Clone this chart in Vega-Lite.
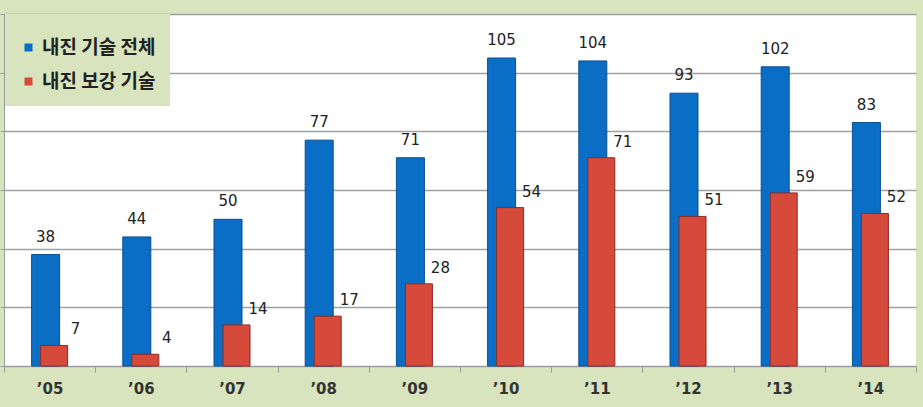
{
  "$schema": "https://vega.github.io/schema/vega-lite/v6.json",
  "width": 912,
  "height": 352,
  "autosize": {"type": "none"},
  "padding": {"left": 4, "top": 14, "right": 7, "bottom": 41},
  "background": "#d7e4bd",
  "view": {"fill": "white", "stroke": null},
  "data": {
    "values": [
      {"year": "’05", "series": "내진 기술 전체", "count": 38},
      {"year": "’06", "series": "내진 기술 전체", "count": 44},
      {"year": "’07", "series": "내진 기술 전체", "count": 50},
      {"year": "’08", "series": "내진 기술 전체", "count": 77},
      {"year": "’09", "series": "내진 기술 전체", "count": 71},
      {"year": "’10", "series": "내진 기술 전체", "count": 105},
      {"year": "’11", "series": "내진 기술 전체", "count": 104},
      {"year": "’12", "series": "내진 기술 전체", "count": 93},
      {"year": "’13", "series": "내진 기술 전체", "count": 102},
      {"year": "’14", "series": "내진 기술 전체", "count": 83},
      {"year": "’05", "series": "내진 보강 기술", "count": 7},
      {"year": "’06", "series": "내진 보강 기술", "count": 4},
      {"year": "’07", "series": "내진 보강 기술", "count": 14},
      {"year": "’08", "series": "내진 보강 기술", "count": 17},
      {"year": "’09", "series": "내진 보강 기술", "count": 28},
      {"year": "’10", "series": "내진 보강 기술", "count": 54},
      {"year": "’11", "series": "내진 보강 기술", "count": 71},
      {"year": "’12", "series": "내진 보강 기술", "count": 51},
      {"year": "’13", "series": "내진 보강 기술", "count": 59},
      {"year": "’14", "series": "내진 보강 기술", "count": 52}
    ]
  },
  "encoding": {
    "x": {
      "field": "year", "type": "nominal", "sort": null,
      "scale": {"type": "band", "paddingInner": 0, "paddingOuter": 0},
      "axis": {
        "title": null, "labelAngle": 0, "tickBand": "extent",
        "domainColor": "#9a9a9a", "tickColor": "#9a9a9a", "tickSize": 6,
        "labelFont": "DejaVu Sans", "labelFontSize": 15, "labelFontWeight": "bold",
        "labelColor": "#333333", "labelPadding": 9, "grid": false
      }
    },
    "y": {
      "field": "count", "type": "quantitative",
      "scale": {"domain": [0, 120], "nice": false},
      "axis": {
        "title": null, "labels": false, "values": [0, 20, 40, 60, 80, 100, 120],
        "grid": true, "gridColor": "#a0a0a0", "gridWidth": 1.5,
        "domainColor": "#9a9a9a", "tickColor": "#9a9a9a", "tickSize": 4
      }
    }
  },
  "layer": [
    {
      "transform": [{"filter": "datum.series === '내진 기술 전체'"}],
      "mark": {"type": "bar", "width": 28, "xOffset": -4, "stroke": "#0a4f8f", "strokeWidth": 1},
      "encoding": {
        "color": {
          "field": "series", "type": "nominal",
          "scale": {"domain": ["내진 기술 전체", "내진 보강 기술"], "range": ["#0a6ec6", "#d64a3c"]},
          "legend": {
            "title": " ", "titleFontSize": 10, "titlePadding": 0,
            "orient": "none", "legendX": 1, "legendY": 0,
            "fillColor": "#d7e4bd", "padding": 14, "rowPadding": 14,
            "symbolType": "square", "symbolSize": 64, "symbolStrokeWidth": 0,
            "labelFont": "Noto Sans CJK KR", "labelFontSize": 19, "labelFontWeight": "bold",
            "labelColor": "#222222", "labelOffset": 4
          }
        }
      }
    },
    {
      "transform": [{"filter": "datum.series === '내진 보강 기술'"}],
      "mark": {"type": "bar", "width": 27, "xOffset": 4.5, "stroke": "#8b2a22", "strokeWidth": 1},
      "encoding": {
        "color": {"field": "series", "type": "nominal"}
      }
    },
    {
      "transform": [{"filter": "datum.series === '내진 기술 전체'"}],
      "mark": {"type": "text", "xOffset": -4, "dy": -18, "baseline": "middle", "font": "DejaVu Sans", "fontSize": 15, "color": "#222222"},
      "encoding": {"text": {"field": "count", "type": "quantitative"}}
    },
    {
      "transform": [{"filter": "datum.series === '내진 보강 기술'"}],
      "mark": {"type": "text", "xOffset": 26, "dy": -16, "baseline": "middle", "font": "DejaVu Sans", "fontSize": 15, "color": "#222222"},
      "encoding": {"text": {"field": "count", "type": "quantitative"}}
    }
  ]
}
